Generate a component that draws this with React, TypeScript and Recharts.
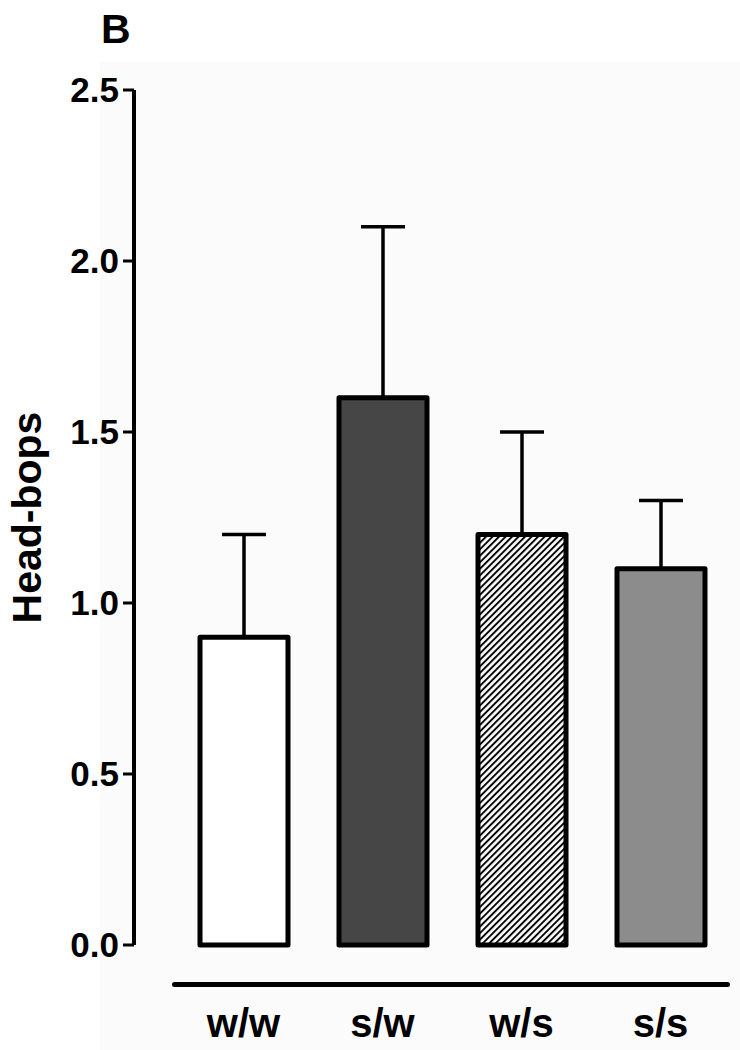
import React from "react";
import {
  BarChart,
  Bar,
  XAxis,
  YAxis,
  Cell,
  ErrorBar,
} from "recharts";

const groups = ["w/w", "s/w", "w/s", "s/s"];
const means = [0.9, 1.6, 1.2, 1.1];
const sems = [0.3, 0.5, 0.3, 0.2];
const yTicks = [0, 0.5, 1.0, 1.5, 2.0, 2.5];
const fills = ["#ffffff", "#464646", "url(#hatch)", "#8c8c8c"];

const data = groups.map((g, i) => ({
  name: g,
  value: means[i],
  err: [0, sems[i]],
}));

const FONT = "'Liberation Sans', Arial, Helvetica, sans-serif";

export default function App() {
  return (
    <div style={{ position: "absolute", left: 0, top: 0, width: 740, height: 1050, background: "#ffffff", fontFamily: FONT }}>
      {/* faint grey panel behind the plot */}
      <div style={{ position: "absolute", left: 100, top: 62, right: 0, bottom: 0, background: "#fbfbfb" }} />
      <div style={{ position: "absolute", left: 101, top: 6, fontSize: 41, fontWeight: "bold", lineHeight: "46px" }}>B</div>
      {/* baseline under the bars */}
      <div style={{ position: "absolute", left: 172, top: 982, width: 558, height: 5, background: "#000", borderRadius: 3 }} />
      <div style={{ position: "absolute", left: 0, top: 0 }}>
        <BarChart
          width={740}
          height={1050}
          data={data}
          margin={{ top: 90, right: 10, left: 0, bottom: 0 }}
          barSize={88}
        >
          <defs>
            <pattern id="hatch" width="4.6" height="4.6" patternUnits="userSpaceOnUse" patternTransform="rotate(45)">
              <rect width="4.6" height="4.6" fill="#ffffff" />
              <line x1="1" y1="0" x2="1" y2="4.6" stroke="#000" strokeWidth="1.9" />
            </pattern>
          </defs>
          <XAxis
            dataKey="name"
            axisLine={false}
            tickLine={false}
            tickSize={0}
            tickMargin={64}
            height={105}
            padding={{ left: 40, right: 0 }}
            tick={{ fontSize: 40, fontWeight: "bold", fill: "#000", fontFamily: FONT }}
          />
          <YAxis
            domain={[0, 2.5]}
            ticks={yTicks}
            tickFormatter={(v) => Number(v).toFixed(1)}
            width={134}
            axisLine={{ stroke: "#000", strokeWidth: 4 }}
            tickLine={{ stroke: "#000", strokeWidth: 3 }}
            tickSize={11}
            tickMargin={4}
            tick={{ fontSize: 35, fontWeight: "bold", fill: "#000", fontFamily: FONT }}
            label={{
              value: "Head-bops",
              angle: -90,
              position: "insideLeft",
              offset: 26,
              style: { fontSize: 41, fontWeight: "bold", fill: "#000", fontFamily: FONT, textAnchor: "middle" },
            }}
          />
          <Bar
            dataKey="value"
            stroke="#000"
            strokeWidth={5}
            strokeLinejoin="round"
            isAnimationActive={false}
          >
            {data.map((d, i) => (
              <Cell key={d.name} fill={fills[i]} />
            ))}
            <ErrorBar dataKey="err" width={22} stroke="#000" strokeWidth={3.5} direction="y" />
          </Bar>
        </BarChart>
      </div>
    </div>
  );
}
